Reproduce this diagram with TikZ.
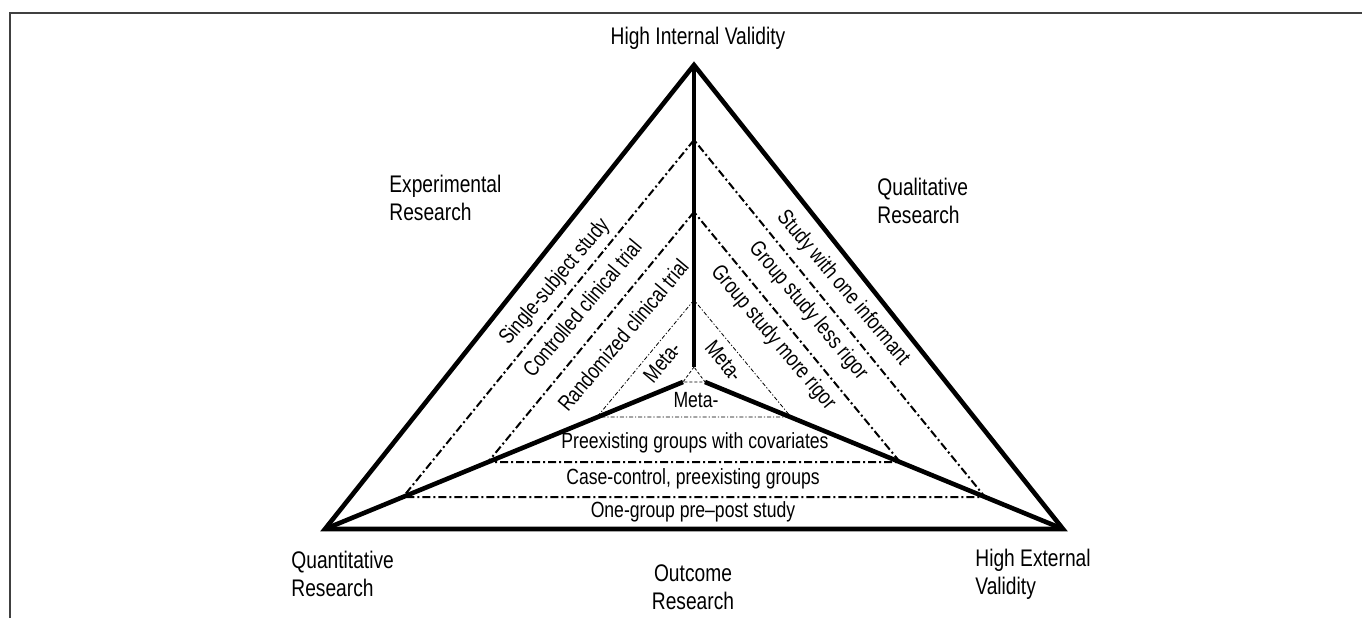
\documentclass[tikz,border=0pt]{standalone}
\usepackage{fontspec}
\setmainfont{Liberation Sans}[FakeStretch=0.8]

\begin{document}
\begin{tikzpicture}[x=0.5pt, y=-0.5pt,
  framestyle/.style={draw=black!75, line width=0.8pt},
  heavyline/.style={line width=2.3pt, line join=miter},
  dashdotline/.style={line width=1pt, dash pattern=on 4pt off 1.5pt on 1pt off 1.5pt},
  thinline/.style={line width=0.4pt, dash pattern=on 2pt off 1pt on 0.6pt off 1pt},
  hairline/.style={line width=0.4pt, dash pattern=on 1.5pt off 1pt},
  outerlabel/.style={inner sep=0pt, font=\fontsize{12}{14}\selectfont, align=left},
  innerlabel/.style={inner sep=0pt, font=\fontsize{11}{13}\selectfont}]
\useasboundingbox (0,0) rectangle (1362,618);

% Frame
\draw[framestyle] (10,618) -- (10,13) -- (1362,13);

% Corners
\coordinate (A) at (694,65);
\coordinate (B) at (325,529);
\coordinate (C) at (1063,529);

% Nested triangles
\coordinate (t1) at (694,140);
\coordinate (l1) at (403,497);
\coordinate (r1) at (985,497);
\coordinate (t2) at (694,212);
\coordinate (l2) at (488,462);
\coordinate (r2) at (900,462);
\coordinate (t3) at (694,300);
\coordinate (l3) at (597,417);
\coordinate (r3) at (791,417);
\coordinate (t4) at (694,367);
\coordinate (l4) at (683,382);
\coordinate (r4) at (705,382);

\draw[heavyline] (A) -- (B) -- (C) -- cycle;
\draw[heavyline] (A) -- (t4);
\draw[heavyline] (l4) -- (B);
\draw[heavyline] (r4) -- (C);
\draw[dashdotline] (t1) -- (l1) -- (r1) -- cycle;
\draw[dashdotline] (t2) -- (l2) -- (r2) -- cycle;
\draw[thinline] (t3) -- (l3) -- (r3) -- cycle;
\draw[hairline] (t4) -- (l4) -- (r4) -- cycle;

% Outer labels
\node[outerlabel] (hiv) at (698,38) {High Internal Validity};
\node[outerlabel, anchor=west] (exp) at (389,198) {Experimental\\Research};
\node[outerlabel, anchor=west] (qual) at (877,201) {Qualitative\\Research};
\node[outerlabel, anchor=west] (quant) at (291,574) {Quantitative\\Research};
\node[outerlabel, align=center] (outc) at (693,587) {Outcome\\Research};
\node[outerlabel, anchor=west] (hev) at (975,574) {High External\\Validity};

% Left side
\node[innerlabel, rotate=50] (single) at (555,282) {Single-subject study};
\node[innerlabel, rotate=50] (cct) at (582,308) {Controlled clinical trial};
\node[innerlabel, rotate=50] (rct) at (623,335) {Randomized clinical trial};
\node[innerlabel, rotate=50] (metal) at (662,362) {Meta-};

% Right side
\node[innerlabel, rotate=-50] (one) at (843,288) {Study with one informant};
\node[innerlabel, rotate=-50] (less) at (808,311) {Group study less rigor};
\node[innerlabel, rotate=-50] (more) at (773,338) {Group study more rigor};
\node[innerlabel, rotate=-50] (metar) at (724,361) {Meta-};

% Bottom
\node[innerlabel] (metab) at (696,400) {Meta-};
\node[innerlabel] (preex) at (695,443) {Preexisting groups with covariates};
\node[innerlabel] (casec) at (693,479) {Case-control, preexisting groups};
\node[innerlabel] (onegr) at (693,512) {One-group pre–post study};

\end{tikzpicture}
\end{document}
